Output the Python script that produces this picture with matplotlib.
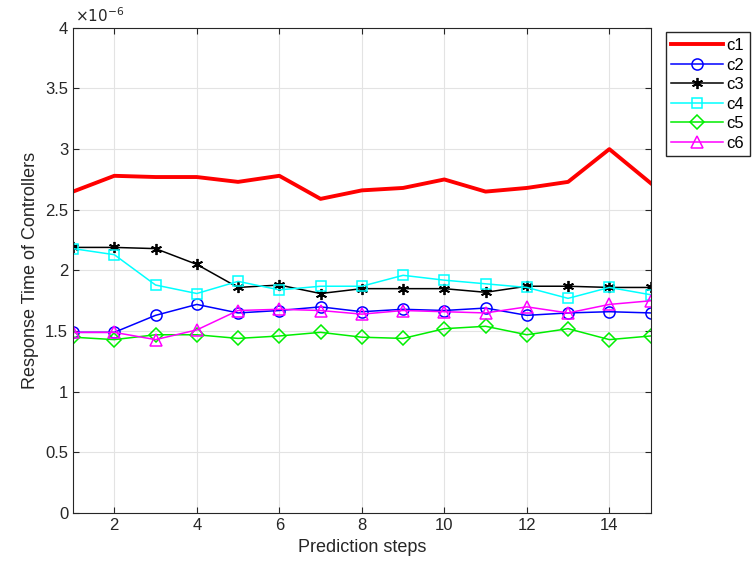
import matplotlib.pyplot as plt
import numpy as np
from matplotlib.ticker import FuncFormatter

plt.rcParams['font.family'] = ['Liberation Sans', 'DejaVu Sans']

# response times per controller, in microseconds
steps = np.arange(1, 16)
c1 = [2.65, 2.78, 2.77, 2.77, 2.73, 2.78, 2.59, 2.66, 2.68, 2.75, 2.65, 2.68, 2.73, 3.00, 2.72]
c2 = [1.49, 1.49, 1.63, 1.72, 1.65, 1.67, 1.70, 1.66, 1.68, 1.67, 1.69, 1.63, 1.65, 1.66, 1.65]
c3 = [2.19, 2.19, 2.18, 2.05, 1.86, 1.88, 1.81, 1.85, 1.85, 1.85, 1.82, 1.87, 1.87, 1.86, 1.86]
c4 = [2.18, 2.13, 1.88, 1.81, 1.91, 1.84, 1.87, 1.87, 1.96, 1.92, 1.89, 1.86, 1.77, 1.86, 1.80]
c5 = [1.45, 1.43, 1.47, 1.47, 1.44, 1.46, 1.49, 1.45, 1.44, 1.52, 1.54, 1.47, 1.52, 1.43, 1.46]
c6 = [1.49, 1.49, 1.43, 1.51, 1.67, 1.68, 1.67, 1.64, 1.67, 1.66, 1.65, 1.70, 1.65, 1.72, 1.75]

fig = plt.figure(figsize=(7.53, 5.67), dpi=100)
ax = fig.add_axes([0.097, 0.095, 0.767, 0.856])

scale = 1e-6
ax.plot(steps, np.array(c1) * scale, color='red', lw=2.8, label='c1')
ax.plot(steps, np.array(c2) * scale, color='blue', lw=1.1, marker='o', ms=8, mfc='none', mew=1.1, label='c2')
ax.plot(steps, np.array(c3) * scale, color='black', lw=1.1, marker=(6, 2, 0), ms=8, mew=1.3, label='c3')
ax.plot(steps, np.array(c4) * scale, color='cyan', lw=1.1, marker='s', ms=7, mfc='none', mew=1.1, label='c4')
ax.plot(steps, np.array(c5) * scale, color='#00ee00', lw=1.1, marker='D', ms=7.5, mfc='none', mew=1.1, label='c5')
ax.plot(steps, np.array(c6) * scale, color='magenta', lw=1.1, marker='^', ms=9, mfc='none', mew=1.1, label='c6')

ax.set_xlim(1, 15)
ax.set_ylim(0, 4e-6)
ax.set_xticks(np.arange(2, 15, 2))
ax.set_yticks(np.arange(0, 4.01, 0.5) * scale)

# tick labels in units of 1e-6, exponent shown once above the axis
ax.yaxis.set_major_formatter(FuncFormatter(lambda v, pos: '%g' % round(v / scale, 3)))
ax.text(0.003, 1.006, r'$\times10^{-6}$', transform=ax.transAxes, fontsize=11,
        color='#262626', ha='left', va='bottom')

ax.grid(True, color='#e3e3e3', lw=0.8)
ax.set_axisbelow(True)
ax.tick_params(direction='in', top=True, right=True, labelsize=12, length=4, colors='#262626')
for s in ax.spines.values():
    s.set_color('#262626')
    s.set_linewidth(0.8)

ax.set_xlabel('Prediction steps', fontsize=13, color='#262626')
ax.set_ylabel('Response Time of Controllers', fontsize=13, color='#262626')

fig.legend(loc='upper left', bbox_to_anchor=(0.884, 0.943), fontsize=12,
           fancybox=False, edgecolor='#262626', framealpha=1, handlelength=3.1,
           borderpad=0.35, labelspacing=0.27, handletextpad=0.2, borderaxespad=0)

fig.savefig('out.png', dpi=100)
